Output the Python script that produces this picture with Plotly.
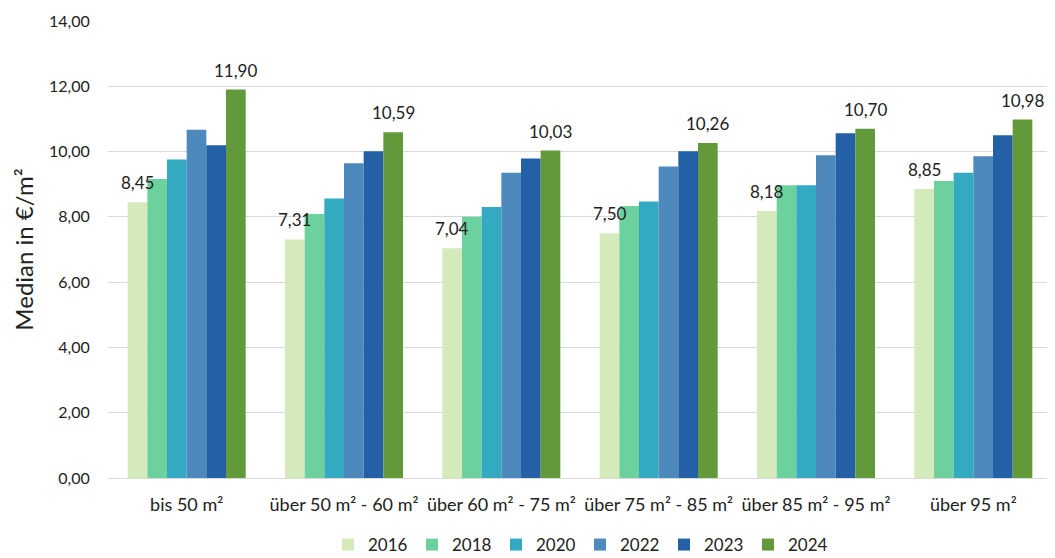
import plotly.graph_objects as go

categories = ["bis 50 m²", "über 50 m² - 60 m²", "über 60 m² - 75 m²",
              "über 75 m² - 85 m²", "über 85 m² - 95 m²", "über 95 m²"]
years = ["2016", "2018", "2020", "2022", "2023", "2024"]
v2016 = [8.45, 7.31, 7.04, 7.50, 8.18, 8.85]
v2018 = [9.16, 8.09, 8.00, 8.33, 8.97, 9.10]
v2020 = [9.76, 8.56, 8.30, 8.47, 8.97, 9.35]
v2022 = [10.67, 9.64, 9.35, 9.54, 9.89, 9.86]
v2023 = [10.19, 10.01, 9.79, 10.01, 10.56, 10.50]
v2024 = [11.90, 10.59, 10.03, 10.26, 10.70, 10.98]
series = [v2016, v2018, v2020, v2022, v2023, v2024]
labelled = {"2016", "2024"}
colors = ["#d4eabb", "#6dd19e", "#33a9c2", "#4e89bd", "#2360a5", "#61993b"]

font = "Lato, 'Open Sans', sans-serif"

# layout geometry (page body has an 8px margin; compensate)
W, H = 1047, 550
ML, MR, MT, MB = 100, 3, 13, 80
BARGAP = 0.25

fig = go.Figure()
for y, vals, c in zip(years, series, colors):
    fig.add_trace(go.Bar(
        name=y, x=categories, y=vals, marker=dict(color=c, line=dict(width=0)),
    ))

# value labels above the 2016 and 2024 bars
plot_w = W - ML - MR
plot_h = H - MT - MB
bar_w = plot_w / len(categories) * (1 - BARGAP) / len(years)
n = len(years)
for i, (y, vals) in enumerate(zip(years, series)):
    if y not in labelled:
        continue
    shift = (i - (n - 1) / 2) * bar_w
    for cat, v in zip(categories, vals):
        fig.add_annotation(
            x=cat, y=v, xref="x", yref="y", text=f"{v:.2f}".replace(".", ","),
            showarrow=False, yanchor="bottom", xanchor="center",
            xshift=shift, yshift=7,
            font=dict(size=17, color="#222", family=font),
        )

fig.update_layout(
    width=W, height=H,
    barmode="group", bargap=BARGAP, bargroupgap=0,
    plot_bgcolor="white", paper_bgcolor="white",
    margin=dict(l=ML, r=MR, t=MT, b=MB, autoexpand=False),
    font=dict(family=font, size=16, color="#222"),
    separators=",.",
    showlegend=True,
    legend=dict(orientation="h", x=0.5, xanchor="center", y=-67 / plot_h,
                yanchor="middle", font=dict(size=17), itemwidth=30,
                entrywidth=39, entrywidthmode="pixels", traceorder="normal"),
)
fig.update_yaxes(range=[0, 14], dtick=2, tickformat=".2f", gridcolor="#d9d9d9",
                 gridwidth=1, zeroline=False, ticks="outside", ticklen=14,
                 tickcolor="white", tickfont=dict(size=16), automargin=False,
                 title=dict(text="Median in €/m²", font=dict(size=24), standoff=8))
fig.update_xaxes(showline=True, linecolor="#d9d9d9", linewidth=1,
                 tickfont=dict(size=18), ticks="outside", tickcolor="white",
                 ticklen=10, automargin=False)

fig.write_html("out.html")
